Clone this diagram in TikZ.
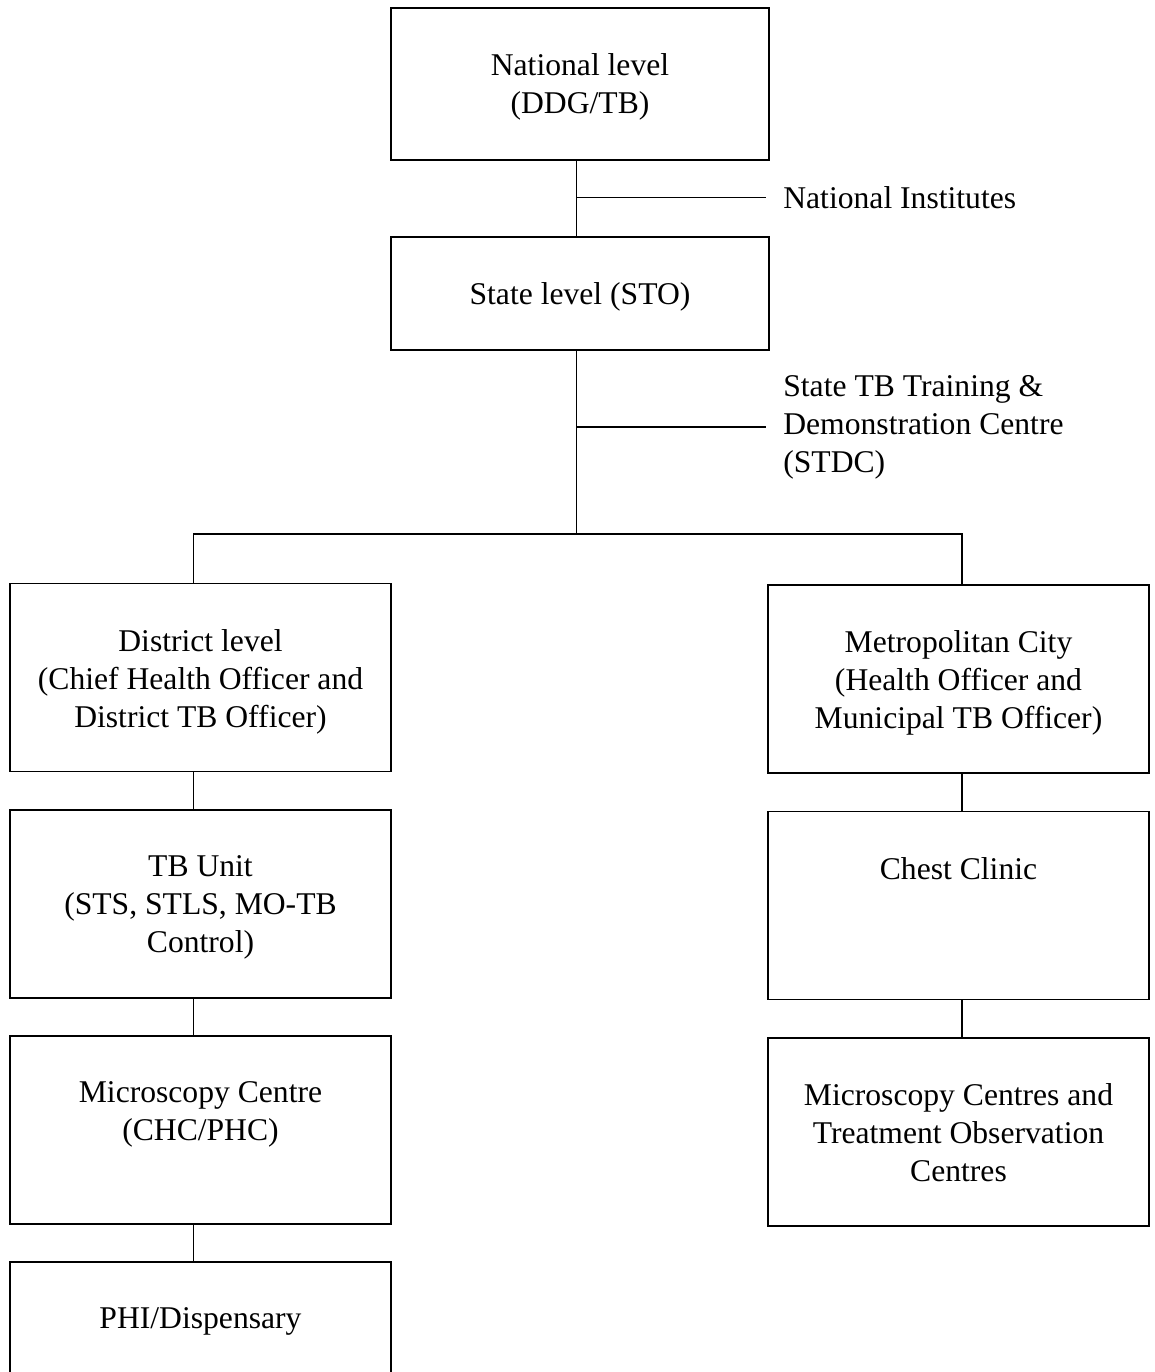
\documentclass[tikz,border=0pt]{standalone}
\usepackage{fontspec}
\setmainfont{Liberation Serif}
\usetikzlibrary{positioning}

\tikzset{
  orgbox/.style={draw, line width=1pt, minimum width=7.62cm, minimum height=3.76cm, inner sep=0pt},
  boxtext/.style={anchor=north, align=center, inner sep=0pt, font=\fontsize{18}{21.6}\selectfont},
  sidetext/.style={anchor=west, align=left, inner xsep=0.34cm, inner ysep=0pt, font=\fontsize{18}{21.6}\selectfont},
  link/.style={line width=1pt},
}

\begin{document}
\begin{tikzpicture}
  \useasboundingbox (0,0) rectangle (23.1,-27.44);

  % top of the chart
  \node[orgbox, minimum width=7.56cm, minimum height=3.04cm] (nat) at (11.6,-1.68) {};
  \node[orgbox, minimum width=7.56cm, minimum height=2.26cm] (sto) at (11.6,-5.87) {};
  \node[sidetext] (inst) at (15.32,-3.95) {National Institutes};
  \node[sidetext] (stdc) at (15.32,-8.54) {State TB Training \&\\Demonstration Centre\\(STDC)};

  % left column
  \node[orgbox] (dist) at (4.01,-13.55) {};
  \node[orgbox] (tbu) at (4.01,-18.08) {};
  \node[orgbox] (mc) at (4.01,-22.6) {};
  \node[orgbox] (phi) at (4.01,-27.12) {};

  % right column
  \node[orgbox] (metro) at (19.17,-13.58) {};
  \node[orgbox] (chest) at (19.17,-18.11) {};
  \node[orgbox] (mcs) at (19.17,-22.64) {};

  % texts
  \node[boxtext] (nat-t) at ([yshift=-0.93cm]nat.north) {National level\\(DDG/TB)};
  \node[boxtext] (sto-t) at ([yshift=-0.93cm]sto.north) {State level (STO)};
  \node[boxtext] (dist-t) at ([yshift=-0.93cm]dist.north) {District level\\(Chief Health Officer and\\District TB Officer)};
  \node[boxtext] (tbu-t) at ([yshift=-0.93cm]tbu.north) {TB Unit\\(STS, STLS, MO-TB\\Control)};
  \node[boxtext] (mc-t) at ([yshift=-0.93cm]mc.north) {Microscopy Centre\\(CHC/PHC)};
  \node[boxtext] (phi-t) at ([yshift=-0.93cm]phi.north) {PHI/Dispensary};
  \node[boxtext] (metro-t) at ([yshift=-0.93cm]metro.north) {Metropolitan City\\(Health Officer and\\Municipal TB Officer)};
  \node[boxtext] (chest-t) at ([yshift=-0.93cm]chest.north) {Chest Clinic};
  \node[boxtext] (mcs-t) at ([yshift=-0.93cm]mcs.north) {Microscopy Centres and\\Treatment Observation\\Centres};

  % connectors
  \coordinate (split) at (11.53,-10.68);
  \draw[link] ([xshift=-2pt]nat.south) -- ([xshift=-2pt]sto.north);
  \draw[link] ([xshift=-2pt]nat.south |- inst.west) -- (inst.west);
  \draw[link] ([xshift=-2pt]sto.south |- stdc.west) -- (stdc.west);
  \draw[link] ([xshift=-2pt]sto.south) -- ([xshift=-2pt]sto.south |- split);
  \draw[link] ([xshift=-4pt]dist.north) |- (split) -| ([xshift=2pt]metro.north);
  \foreach \a/\b in {dist/tbu,tbu/mc,mc/phi}
    \draw[link] ([xshift=-4pt]\a.south) -- ([xshift=-4pt]\b.north);
  \foreach \a/\b in {metro/chest,chest/mcs}
    \draw[link] ([xshift=2pt]\a.south) -- ([xshift=2pt]\b.north);
\end{tikzpicture}
\end{document}
